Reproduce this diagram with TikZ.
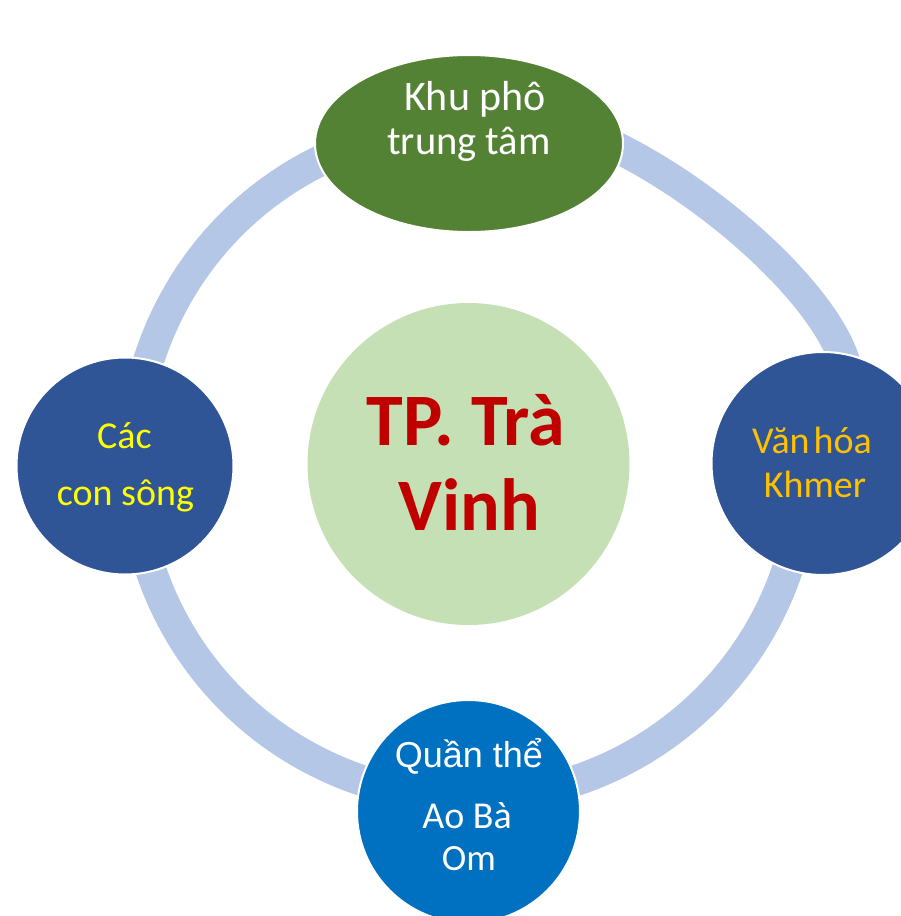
\documentclass[tikz,border=0pt]{standalone}
\usepackage{fontspec}
\setmainfont{Carlito}
\newfontfamily\arialfont{Liberation Sans}
\usetikzlibrary{shapes.geometric}

\definecolor{ringblue}{HTML}{B4C7E7}
\definecolor{leafgreen}{HTML}{548235}
\definecolor{navy}{HTML}{2F5597}
\definecolor{brightblue}{HTML}{0070C0}
\definecolor{palegreen}{HTML}{C5E0B4}
\definecolor{titlered}{HTML}{C00000}
\definecolor{lemon}{HTML}{FFFF00}
\definecolor{amber}{HTML}{FFC000}

\tikzset{
  ring/.style={draw=ringblue, line width=31pt},
  bubble/.style={circle, draw=white, line width=2pt, inner sep=0pt},
  txt/.style={inner sep=0pt, anchor=base},
}

\begin{document}
\begin{tikzpicture}[x=1pt, y=-1pt]
\useasboundingbox (0,0) rectangle (901,916);

% ring behind the nodes
\coordinate (ringc) at (469,462);
\draw[ring] (ringc) ++(65:336pt) arc[start angle=65, end angle=345, radius=336pt];
\coordinate (ua) at (600,139);
\coordinate (ub) at (853,385);
\draw[ring] (ua) -- (618,148) .. controls (719,199) and (820,293) .. (843,357) -- (ub);

% surrounding nodes
\node[ellipse, draw=white, line width=2pt, fill=leafgreen,
      minimum width=308pt, minimum height=177pt] (top) at (469,143.5) {};
\node[bubble, fill=navy, minimum size=217pt] (left) at (125,466) {};
\node[bubble, fill=navy, minimum size=223pt] (right) at (823,463.5) {};
\node[bubble, fill=brightblue, minimum size=223pt] (bottom) at (468.5,811.5) {};
\node[bubble, fill=palegreen, draw=none, minimum size=322pt] (hub) at (468.5,464) {};

% labels
\node[txt, text=white, font=\fontsize{42}{42}\selectfont] (t1) at (475,110) {Khu phô};
\node[txt, text=white, font=\fontsize{40.5}{40.5}\selectfont] (t2) at (469,154) {trung tâm};

\node[txt, text=lemon, font=\fontsize{38}{38}\selectfont] (l1) at (124.5,448) {Các};
\node[txt, text=lemon, font=\fontsize{38}{38}\selectfont] (l2) at (125.5,505) {con sông};

\node[txt, text=amber, font=\fontsize{38}{38}\selectfont] (r1) at (812,453) {Văn\kern-0.12em\ hóa};
\node[txt, text=amber, font=\fontsize{38}{38}\selectfont] (r2) at (815,497) {Khmer};

\node[txt, text=white, font=\arialfont\fontsize{36}{36}\selectfont] (b1) at (469,767) {Quần thể};
\node[txt, text=white, font=\fontsize{38}{38}\selectfont] (b2) at (467,828) {Ao Bà};
\node[txt, text=white, font=\fontsize{37}{37}\selectfont] (b3) at (469,870) {Om};

\node[txt, text=titlered, font=\bfseries\fontsize{74}{74}\selectfont] (h1) at (466,445) {TP. Trà};
\node[txt, text=titlered, font=\bfseries\fontsize{74}{74}\selectfont] (h2) at (469,530) {Vinh};
\end{tikzpicture}
\end{document}
